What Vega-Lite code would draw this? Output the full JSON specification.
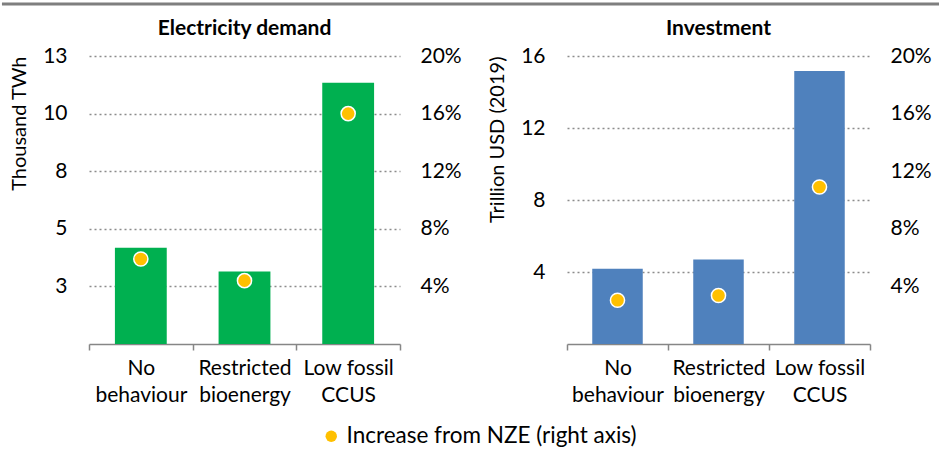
{
  "$schema": "https://vega.github.io/schema/vega-lite/v6.json",
  "padding": {"left": 0, "top": 2, "right": 0, "bottom": 0},
  "background": "white",
  "config": {
    "font": "Lato",
    "view": {"stroke": null},
    "axis": {"labelColor": "#000000", "titleColor": "#000000", "labelFont": "Lato", "titleFont": "Lato"},
    "title": {"font": "Lato", "fontSize": 21, "fontWeight": "bold", "color": "#000000", "anchor": "middle", "offset": 6}
  },
  "datasets": {
    "elec": [
      {"scenario": "No behaviour", "value": 4.18, "increase": 0.059},
      {"scenario": "Restricted bioenergy", "value": 3.15, "increase": 0.044},
      {"scenario": "Low fossil CCUS", "value": 11.34, "increase": 0.16}
    ],
    "inv": [
      {"scenario": "No behaviour", "value": 4.18, "increase": 0.0304},
      {"scenario": "Restricted bioenergy", "value": 4.69, "increase": 0.0337},
      {"scenario": "Low fossil CCUS", "value": 15.16, "increase": 0.109}
    ],
    "topline": [{"start": 0, "end": 1}]
  },
  "vconcat": [
    {
      "width": 850,
      "height": 1,
      "data": {"name": "topline"},
      "mark": {"type": "rule", "color": "#7F7F7F", "strokeWidth": 3, "clip": false},
      "encoding": {
        "x": {"datum": -0.1024, "type": "quantitative", "scale": {"domain": [0, 1], "nice": false, "zero": false, "clamp": false}, "axis": null},
        "x2": {"datum": 1.0},
        "y": {"datum": 0, "type": "quantitative", "axis": null}
      }
    },
    {
      "hconcat": [
        {
          "width": 311,
          "height": 288,
          "title": {"text": "Electricity demand"},
          "data": {"name": "elec"},
          "encoding": {
            "x": {
              "field": "scenario", "type": "nominal", "sort": null,
              "scale": {"paddingInner": 0, "paddingOuter": 0},
              "axis": {
                "title": null, "labelAngle": 0, "labelFontSize": 21, "labelPadding": 7, "labelLineHeight": 27,
                "domainColor": "#868686", "domainWidth": 1.5, "tickColor": "#868686", "tickWidth": 1.5, "tickSize": 6, "tickBand": "extent",
                "labelExpr": "datum.label == 'Low fossil CCUS' ? ['Low fossil', 'CCUS'] : split(datum.label, ' ')"
              }
            }
          },
          "layer": [
            {
              "mark": {"type": "bar", "color": "#00B050", "width": {"band": 0.5}},
              "encoding": {
                "y": {
                  "field": "value", "type": "quantitative",
                  "scale": {"domain": [0, 12.5], "nice": false},
                  "axis": {
                    "values": [2.5, 5, 7.5, 10, 12.5], "labelExpr": "round(datum.value)",
                    "title": "Thousand TWh", "titleFontSize": 20, "titleFontWeight": "normal", "titleAnchor": "end", "titlePadding": 13,
                    "labelFontSize": 21, "labelPadding": 22, "domain": false, "ticks": false,
                    "grid": true, "gridDash": [2, 3], "gridColor": "#8C8C8C", "gridWidth": 1.5
                  }
                }
              }
            },
            {
              "mark": {"type": "point", "filled": true, "size": 200, "stroke": "white", "strokeWidth": 1.5, "opacity": 1},
              "encoding": {
                "y": {
                  "field": "increase", "type": "quantitative",
                  "scale": {"domain": [0, 0.2], "nice": false},
                  "axis": {
                    "orient": "right", "values": [0.04, 0.08, 0.12, 0.16, 0.2], "format": ".0%",
                    "title": null, "labelFontSize": 21, "labelPadding": 20, "domain": false, "ticks": false, "grid": false
                  }
                },
                "color": {
                  "datum": "Increase from NZE (right axis)",
                  "scale": {"range": ["#FFC000"]},
                  "legend": {
                    "title": null, "orient": "none", "legendX": 231, "legendY": 421, "labelLimit": 0,
                    "labelFontSize": 22.5, "symbolType": "circle", "symbolSize": 130, "symbolStrokeWidth": 0, "labelColor": "#000000"
                  }
                }
              }
            }
          ],
          "resolve": {"scale": {"y": "independent"}}
        },
        {
          "width": 303,
          "height": 288,
          "title": {"text": "Investment"},
          "data": {"name": "inv"},
          "encoding": {
            "x": {
              "field": "scenario", "type": "nominal", "sort": null,
              "scale": {"paddingInner": 0, "paddingOuter": 0},
              "axis": {
                "title": null, "labelAngle": 0, "labelFontSize": 21, "labelPadding": 7, "labelLineHeight": 27,
                "domainColor": "#868686", "domainWidth": 1.5, "tickColor": "#868686", "tickWidth": 1.5, "tickSize": 6, "tickBand": "extent",
                "labelExpr": "datum.label == 'Low fossil CCUS' ? ['Low fossil', 'CCUS'] : split(datum.label, ' ')"
              }
            }
          },
          "layer": [
            {
              "mark": {"type": "bar", "color": "#4F81BD", "width": {"band": 0.5}},
              "encoding": {
                "y": {
                  "field": "value", "type": "quantitative",
                  "scale": {"domain": [0, 16], "nice": false},
                  "axis": {
                    "values": [4, 8, 12, 16],
                    "title": "Trillion USD (2019)", "titleFontSize": 20, "titleFontWeight": "normal", "titleAnchor": "end", "titlePadding": 13,
                    "labelFontSize": 21, "labelPadding": 22, "domain": false, "ticks": false,
                    "grid": true, "gridDash": [2, 3], "gridColor": "#8C8C8C", "gridWidth": 1.5
                  }
                }
              }
            },
            {
              "mark": {"type": "point", "filled": true, "size": 200, "stroke": "white", "strokeWidth": 1.5, "opacity": 1, "color": "#FFC000"},
              "encoding": {
                "y": {
                  "field": "increase", "type": "quantitative",
                  "scale": {"domain": [0, 0.2], "nice": false},
                  "axis": {
                    "orient": "right", "values": [0.04, 0.08, 0.12, 0.16, 0.2], "format": ".0%",
                    "title": null, "labelFontSize": 21, "labelPadding": 20, "domain": false, "ticks": false, "grid": false
                  }
                }
              }
            }
          ],
          "resolve": {"scale": {"y": "independent"}}
        }
      ],
      "spacing": 25
    }
  ],
  "spacing": 12
}
